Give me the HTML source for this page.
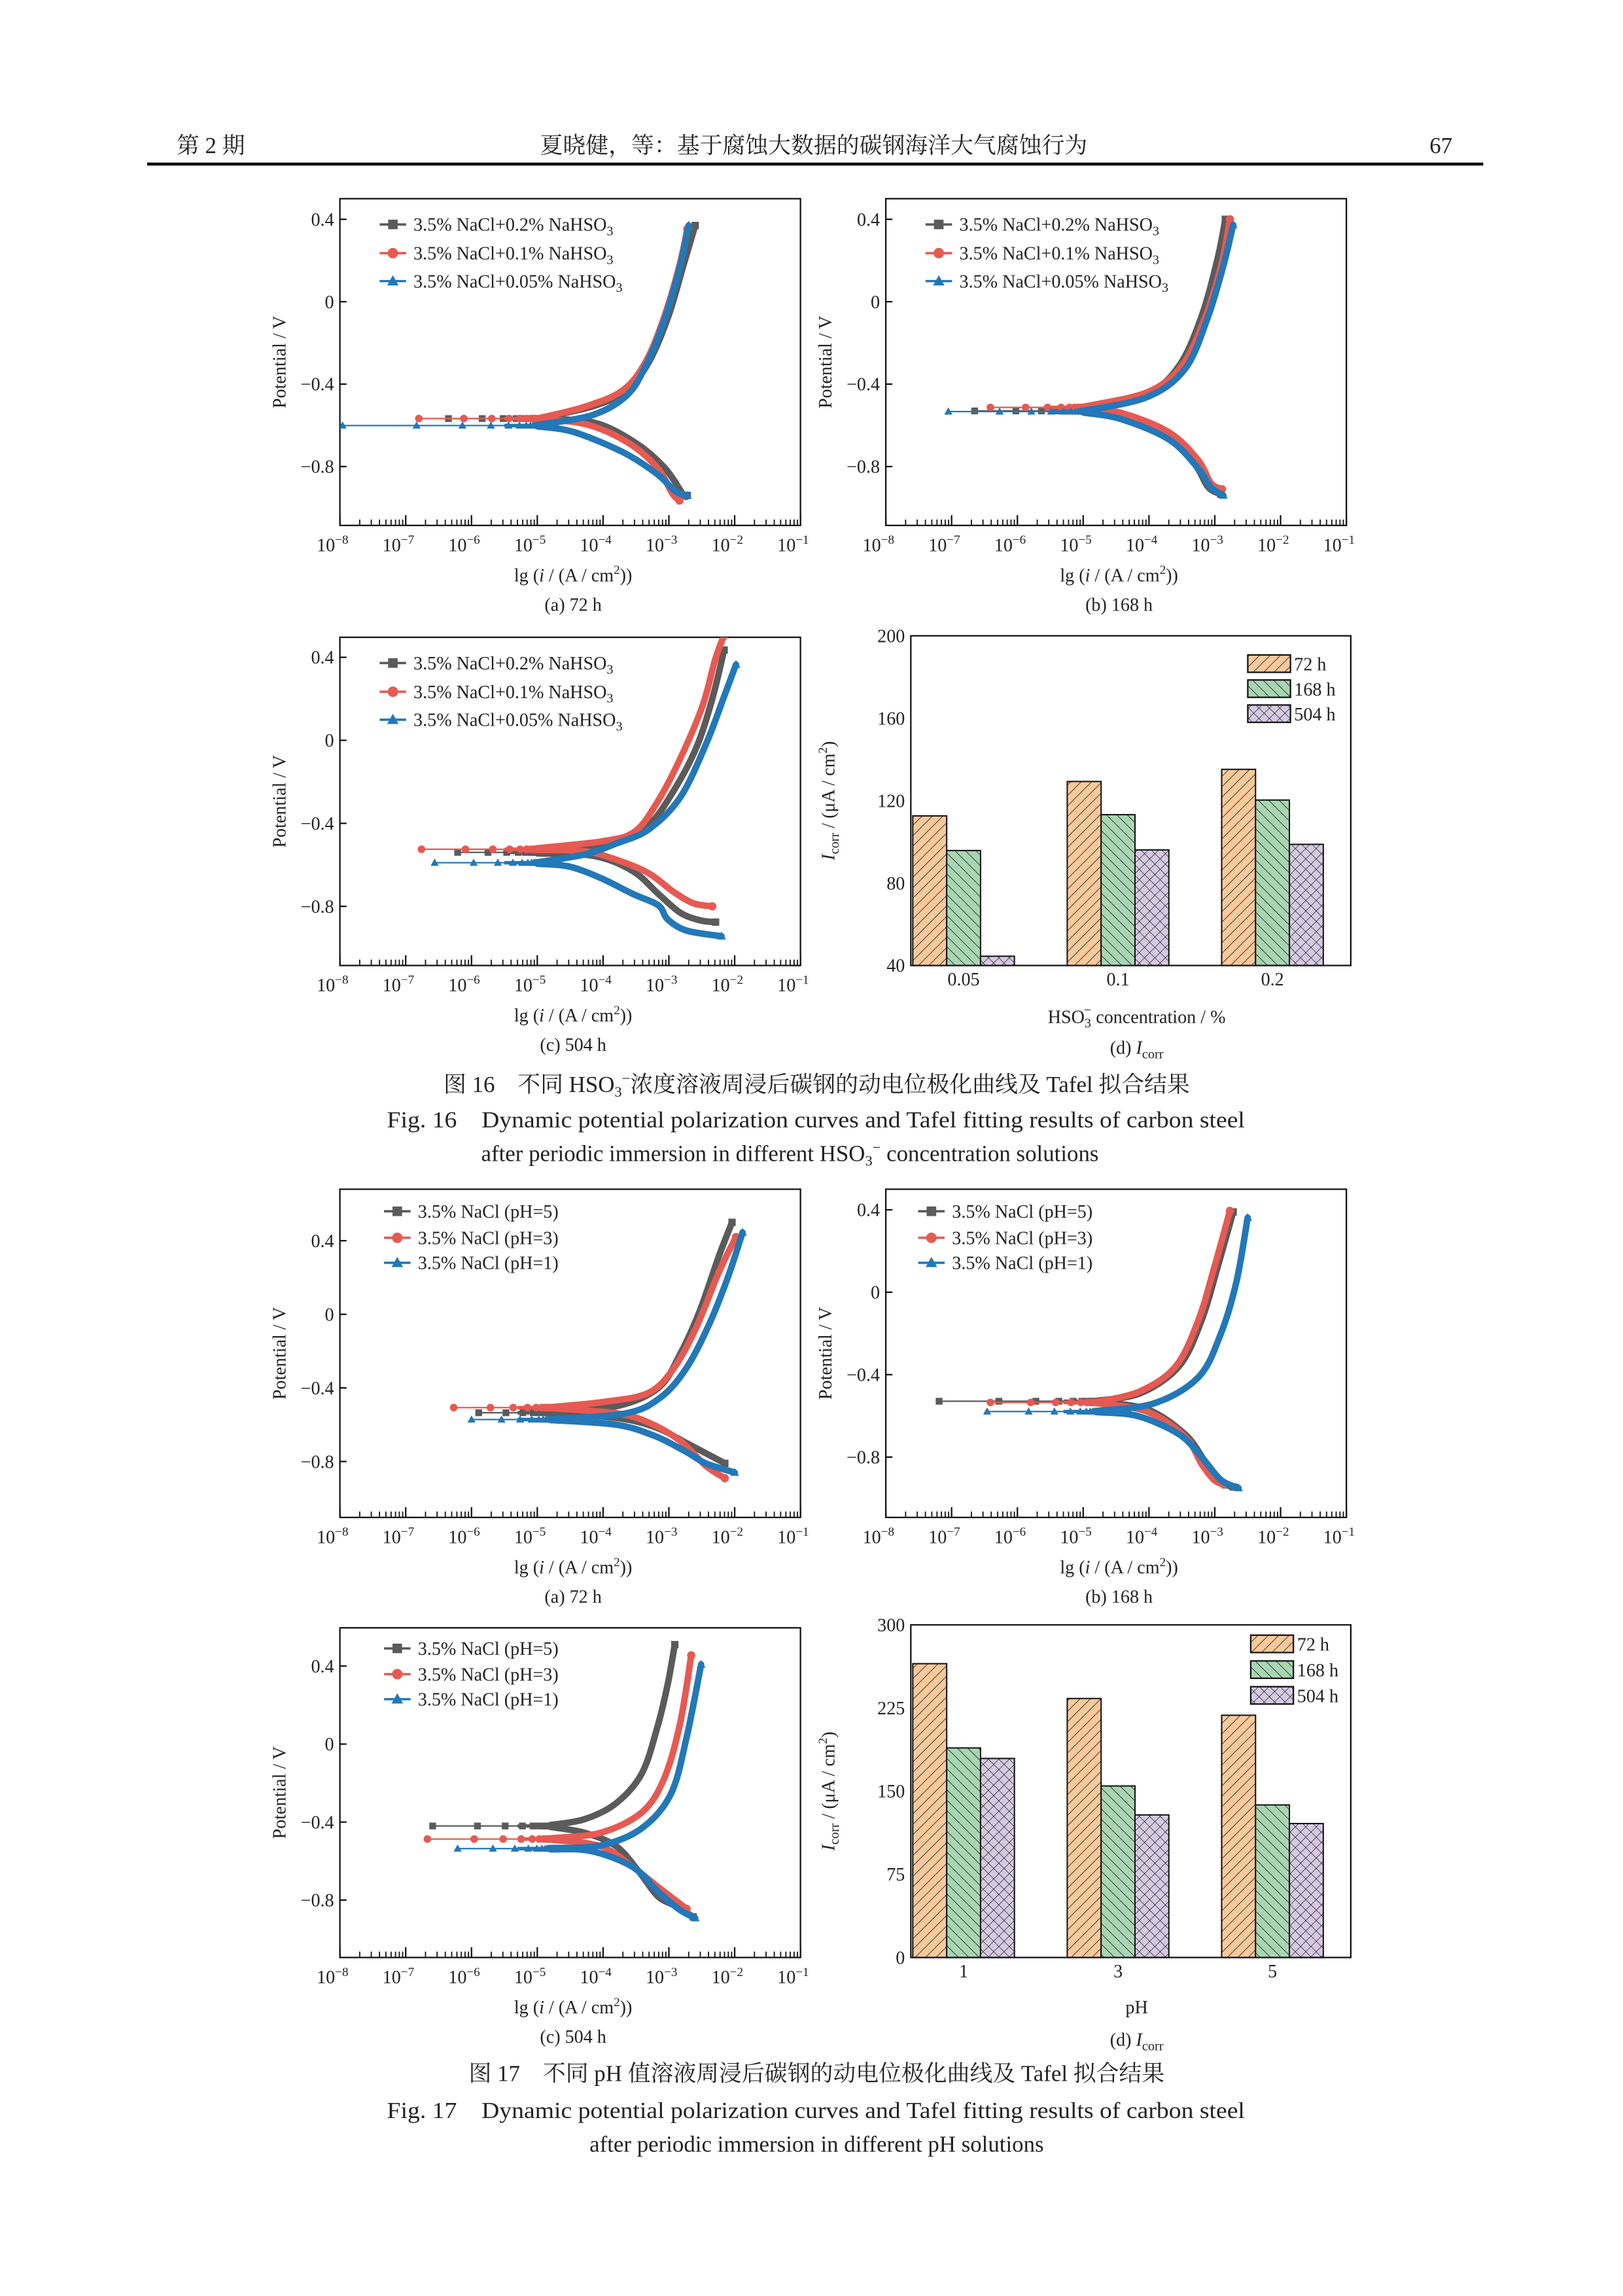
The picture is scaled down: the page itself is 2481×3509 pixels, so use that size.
<!DOCTYPE html>
<html><head><meta charset="utf-8">
<style>
html,body{margin:0;padding:0;background:#fff;}
svg{display:block;}
text{font-family:"Liberation Serif","Noto Serif CJK SC",serif;fill:#222;}
</style></head>
<body>
<svg id="page" xmlns="http://www.w3.org/2000/svg" width="2481" height="3509" viewBox="0 0 1103 1560" preserveAspectRatio="none">
<defs>
<pattern id="hatchO" patternUnits="userSpaceOnUse" width="5" height="5" patternTransform="rotate(45)"><rect width="5" height="5" fill="#f9c99b"/><line x1="0" y1="0" x2="0" y2="5" stroke="#111" stroke-width="0.7"/></pattern>
<pattern id="hatchG" patternUnits="userSpaceOnUse" width="5" height="5" patternTransform="rotate(-45)"><rect width="5" height="5" fill="#a9d6b2"/><line x1="0" y1="0" x2="0" y2="5" stroke="#111" stroke-width="0.7"/></pattern>
<pattern id="hatchP" patternUnits="userSpaceOnUse" width="5" height="5" patternTransform="rotate(45)"><rect width="5" height="5" fill="#d6cae2"/><line x1="0" y1="0" x2="0" y2="5" stroke="#111" stroke-width="0.6"/><line x1="0" y1="0" x2="5" y2="0" stroke="#111" stroke-width="0.6"/></pattern>
</defs>
<g>
<text x="120" y="104" font-size="15.5">第 2 期</text>
<text x="553" y="104" font-size="15.5" text-anchor="middle">夏晓健，等：基于腐蚀大数据的碳钢海洋大气腐蚀行为</text>
<text x="987" y="104" font-size="15.5" text-anchor="end">67</text>
<line x1="100" y1="111.5" x2="1008" y2="111.5" stroke="#000" stroke-width="2"/>
</g>
<g>
<text x="555" y="742" font-size="15.5" text-anchor="middle">图 16　不同 HSO<tspan font-size="10" dy="3">3</tspan><tspan dy="-9" font-size="10">−</tspan><tspan dy="6">浓度溶液周浸后碳钢的动电位极化曲线及 Tafel 拟合结果</tspan></text>
<text x="263" y="766" font-size="15.5" textLength="583" lengthAdjust="spacingAndGlyphs">Fig. 16　Dynamic potential polarization curves and Tafel fitting results of carbon steel</text>
<text x="327" y="789" font-size="15.5">after periodic immersion in different HSO<tspan font-size="10" dy="3">3</tspan><tspan dy="-9" font-size="10">−</tspan><tspan dy="6"> concentration solutions</tspan></text>
</g>
<g>
<text x="555" y="1414" font-size="15.5" text-anchor="middle">图 17　不同 pH 值溶液周浸后碳钢的动电位极化曲线及 Tafel 拟合结果</text>
<text x="263" y="1439" font-size="15.5" textLength="583" lengthAdjust="spacingAndGlyphs">Fig. 17　Dynamic potential polarization curves and Tafel fitting results of carbon steel</text>
<text x="555" y="1462" font-size="15.5" text-anchor="middle">after periodic immersion in different pH solutions</text>
</g>
</svg>
<script>
// ===== Data (log10 i [A/cm2], potential V) =====
const colors = ['#5b5b5b', '#e65a52', '#2278b8'];
const markers = ['square', 'circle', 'triangle'];
const legendHSO = ['3.5% NaCl+0.2% NaHSO', '3.5% NaCl+0.1% NaHSO', '3.5% NaCl+0.05% NaHSO'];
const legendPH = ['3.5% NaCl (pH=5)', '3.5% NaCl (pH=3)', '3.5% NaCl (pH=1)'];
const yTickVals = [0.4, 0, -0.4, -0.8];
const yTickLabels = ['0.4', '0', '−0.4', '−0.8'];
const xDecades = [-8, -7, -6, -5, -4, -3, -2, -1];

// Fig16 (a) 72 h
const f16aEcorr = [-0.567, -0.567, -0.601];
const f16aLeft = [-6.35, -6.8, -7.96];
const f16aAn = [
 [[-5,-0.567],[-4.16,-0.508],[-3.64,-0.43],[-3.3,-0.29],[-3.01,-0.073],[-2.78,0.175],[-2.6,0.37]],
 [[-5,-0.567],[-4.28,-0.51],[-3.7,-0.43],[-3.35,-0.29],[-3.07,-0.073],[-2.84,0.175],[-2.72,0.353]],
 [[-5,-0.598],[-4.16,-0.55],[-3.64,-0.455],[-3.35,-0.31],[-3.07,-0.09],[-2.84,0.16],[-2.7,0.37]]];
const f16aCa = [
 [[-5,-0.57],[-4.16,-0.585],[-3.53,-0.68],[-3.07,-0.804],[-2.78,-0.936],[-2.72,-0.94]],
 [[-5,-0.57],[-4.28,-0.593],[-3.64,-0.68],[-3.18,-0.804],[-2.95,-0.93],[-2.84,-0.965]],
 [[-5,-0.605],[-4.45,-0.632],[-3.7,-0.73],[-3.18,-0.836],[-2.9,-0.92],[-2.72,-0.94]]];
// Fig16 (b) 168 h
const f16bEcorr = [-0.53, -0.513, -0.533];
const f16bLeft = [-6.65, -6.41, -7.05];
const f16bAn = [
 [[-5,-0.528],[-4.03,-0.446],[-3.54,-0.31],[-3.2,-0.07],[-2.96,0.206],[-2.84,0.4]],
 [[-5,-0.51],[-4.03,-0.44],[-3.5,-0.31],[-3.15,-0.08],[-2.9,0.18],[-2.77,0.4]],
 [[-5,-0.53],[-4.03,-0.463],[-3.45,-0.325],[-3.11,-0.08],[-2.87,0.174],[-2.72,0.373]]];
const f16bCa = [
 [[-5,-0.535],[-4.42,-0.557],[-3.69,-0.657],[-3.3,-0.79],[-3.1,-0.9],[-2.91,-0.934]],
 [[-5,-0.518],[-4.42,-0.54],[-3.69,-0.635],[-3.25,-0.77],[-3.06,-0.88],[-2.89,-0.91]],
 [[-5,-0.538],[-4.42,-0.57],[-3.69,-0.67],[-3.25,-0.81],[-3.06,-0.9],[-2.87,-0.94]]];
// Fig16 (c) 504 h
const f16cEcorr = [-0.54, -0.525, -0.59];
const f16cLeft = [-6.21, -6.76, -6.56];
const f16cAn = [
 [[-5,-0.538],[-4.5,-0.53],[-3.8,-0.497],[-3.31,-0.41],[-2.93,-0.245],[-2.58,-0.033],[-2.34,0.2],[-2.16,0.435]],
 [[-5,-0.52],[-4,-0.486],[-3.52,-0.44],[-3.18,-0.3],[-2.83,-0.09],[-2.49,0.165],[-2.3,0.385],[-2.17,0.5]],
 [[-5,-0.588],[-4.28,-0.55],[-3.8,-0.497],[-3.31,-0.43],[-2.83,-0.276],[-2.44,-0.022],[-2.15,0.22],[-1.98,0.365]]];
const f16cCa = [
 [[-5,-0.545],[-4.14,-0.557],[-3.55,-0.63],[-3.16,-0.74],[-2.83,-0.83],[-2.53,-0.867],[-2.29,-0.876]],
 [[-5,-0.528],[-4.28,-0.535],[-3.8,-0.575],[-3.31,-0.64],[-2.93,-0.73],[-2.63,-0.785],[-2.34,-0.8]],
 [[-5,-0.595],[-4.52,-0.608],[-4.04,-0.663],[-3.55,-0.74],[-3.16,-0.795],[-3.02,-0.862],[-2.73,-0.917],[-2.2,-0.944]]];
// Fig17 (a) 72 h
const f17aEcorr = [-0.535, -0.507, -0.572];
const f17aLeft = [-5.89, -6.27, -6.0];
const f17aAn = [
 [[-4.8,-0.533],[-3.8,-0.5],[-3.16,-0.4],[-2.83,-0.217],[-2.53,0.019],[-2.24,0.316],[-2.04,0.5]],
 [[-4.8,-0.505],[-3.99,-0.476],[-3.31,-0.427],[-2.92,-0.29],[-2.58,-0.068],[-2.24,0.229],[-1.98,0.42]],
 [[-4.8,-0.57],[-3.65,-0.538],[-3.12,-0.45],[-2.73,-0.29],[-2.39,-0.056],[-2.1,0.204],[-1.88,0.445]]];
const f17aCa = [
 [[-4.8,-0.54],[-3.8,-0.563],[-3.21,-0.613],[-2.73,-0.7],[-2.15,-0.81]],
 [[-4.8,-0.51],[-3.8,-0.538],[-3.31,-0.588],[-2.83,-0.687],[-2.44,-0.823],[-2.15,-0.891]],
 [[-4.8,-0.575],[-3.8,-0.6],[-3.21,-0.662],[-2.73,-0.749],[-2.44,-0.81],[-2.0,-0.86]]];
// Fig17 (b) 168 h
const f17bEcorr = [-0.529, -0.535, -0.579];
const f17bLeft = [-7.19, -6.41, -6.46];
const f17bAn = [
 [[-4.8,-0.527],[-4.13,-0.49],[-3.54,-0.358],[-3.2,-0.136],[-2.96,0.118],[-2.72,0.39]],
 [[-4.8,-0.533],[-4.13,-0.48],[-3.59,-0.358],[-3.25,-0.136],[-3.01,0.118],[-2.77,0.395]],
 [[-4.8,-0.576],[-3.93,-0.54],[-3.25,-0.413],[-2.91,-0.203],[-2.67,0.052],[-2.5,0.362]]];
const f17bCa = [
 [[-4.8,-0.532],[-4.03,-0.568],[-3.45,-0.69],[-3.15,-0.82],[-2.91,-0.92],[-2.72,-0.945]],
 [[-4.8,-0.538],[-4.03,-0.579],[-3.45,-0.701],[-3.2,-0.834],[-3.01,-0.911],[-2.86,-0.934]],
 [[-4.8,-0.582],[-4.17,-0.601],[-3.54,-0.69],[-3.2,-0.8],[-2.91,-0.91],[-2.64,-0.95]]];
// Fig17 (c) 504 h
const f17cEcorr = [-0.42, -0.487, -0.536];
const f17cLeft = [-6.59, -6.67, -6.21];
const f17cAn = [
 [[-4.8,-0.415],[-4.28,-0.385],[-3.8,-0.303],[-3.41,-0.15],[-3.17,0.093],[-3.02,0.303],[-2.91,0.51]],
 [[-4.8,-0.483],[-4.04,-0.455],[-3.41,-0.35],[-3.07,-0.175],[-2.83,0.105],[-2.66,0.455]],
 [[-4.8,-0.533],[-4.04,-0.52],[-3.41,-0.431],[-2.97,-0.256],[-2.73,0.035],[-2.51,0.408]]];
const f17cCa = [
 [[-4.8,-0.425],[-4.28,-0.455],[-3.8,-0.524],[-3.46,-0.652],[-3.17,-0.78],[-2.92,-0.827],[-2.63,-0.886]],
 [[-4.8,-0.49],[-4.04,-0.524],[-3.55,-0.63],[-3.16,-0.734],[-2.73,-0.845]],
 [[-4.8,-0.54],[-4.19,-0.548],[-3.55,-0.63],[-3.16,-0.758],[-2.83,-0.851],[-2.6,-0.892]]];

// Bar charts
const barSeriesNames = ['72 h', '168 h', '504 h'];
const f16dCategories = ['0.05', '0.1', '0.2'];
const f16d72 = [112.6, 129.3, 135.2];
const f16d168 = [95.8, 113.2, 120.3];
const f16d504 = [44.5, 96.1, 98.8];
const f16dTicks = [40, 80, 120, 160, 200];
const f17dCategories = ['1', '3', '5'];
const f17d72 = [265, 233.6, 218.5];
const f17d168 = [189, 154.7, 137.6];
const f17d504 = [179.5, 128.6, 120.8];
const f17dTicks = [0, 75, 150, 225, 300];

// ===== Rendering =====
const NS = 'http://www.w3.org/2000/svg';
const svg = document.getElementById('page');
function mk(tag, attrs, parent) {
  const el = document.createElementNS(NS, tag);
  for (const k in attrs) el.setAttribute(k, attrs[k]);
  (parent || svg).appendChild(el);
  return el;
}
function smoothPath(pts) {
  if (pts.length < 2) return '';
  let d = 'M' + pts[0][0].toFixed(2) + ',' + pts[0][1].toFixed(2);
  for (let i = 0; i < pts.length - 1; i++) {
    const p0 = pts[Math.max(0, i - 1)], p1 = pts[i], p2 = pts[i + 1], p3 = pts[Math.min(pts.length - 1, i + 2)];
    const c1x = p1[0] + (p2[0] - p0[0]) / 6, c1y = p1[1] + (p2[1] - p0[1]) / 6;
    const c2x = p2[0] - (p3[0] - p1[0]) / 6, c2y = p2[1] - (p3[1] - p1[1]) / 6;
    d += ' C' + c1x.toFixed(2) + ',' + c1y.toFixed(2) + ' ' + c2x.toFixed(2) + ',' + c2y.toFixed(2) + ' ' + p2[0].toFixed(2) + ',' + p2[1].toFixed(2);
  }
  return d;
}
function drawMarker(g, type, x, y, s, color) {
  let m;
  if (type === 'square') m = mk('rect', {x: x - s / 2, y: y - s / 2, width: s, height: s, fill: color}, g);
  else if (type === 'circle') m = mk('circle', {cx: x, cy: y, r: s / 2 + 0.3, fill: color}, g);
  else m = mk('path', {d: 'M' + x + ',' + (y - s * 0.62) + ' L' + (x + s * 0.6) + ',' + (y + s * 0.45) + ' L' + (x - s * 0.6) + ',' + (y + s * 0.45) + 'Z', fill: color}, g);
  return m;
}
function addText(parent, x, y, str, size, anchor) {
  const t = mk('text', {x: x, y: y, 'font-size': size, 'text-anchor': anchor || 'start'}, parent);
  t.textContent = str;
  return t;
}

function curvePanel(id, fx, fy, fw, fh, y0, ppv, ecorr, left, an, ca, legend, subscript, legX, legY, caption) {
  const g = mk('g', {});
  
  
  const X = l => fx + (l + 8) / 7 * fw;
  const Y = e => y0 - e * ppv;
  const clip = mk('clipPath', {id: 'clip-' + id}, g);
  mk('rect', {x: fx, y: fy, width: fw, height: fh}, clip);
  const frame = mk('rect', {x: fx, y: fy, width: fw, height: fh, fill: 'none', stroke: '#111', 'stroke-width': 1}, g);
  
  
  yTickVals.forEach((v, i) => {
    const yy = Y(v);
    const tk = mk('line', {x1: fx, x2: fx + 4.5, y1: yy, y2: yy, stroke: '#111', 'stroke-width': 1}, g);
    
    
    const lb = addText(g, fx - 4, yy + 4.3, yTickLabels[i], 12.5, 'end');
    
    
  });
  xDecades.forEach(d => {
    const xx = X(d);
    const tk = mk('line', {x1: xx, x2: xx, y1: fy + fh, y2: fy + fh - 7, stroke: '#111', 'stroke-width': 1}, g);
    
    
    if (d < -1) {
      for (let k = 2; k <= 9; k++) {
        const mx = X(d + Math.log10(k));
        const mt = mk('line', {x1: mx, x2: mx, y1: fy + fh, y2: fy + fh - 4, stroke: '#111', 'stroke-width': 0.8}, g);
        
        
      }
    }
    const lb = mk('text', {x: xx - 5, y: fy + fh + 17.5, 'font-size': 12.5, 'text-anchor': 'middle'}, g);
    
    
    lb.appendChild(document.createTextNode('10'));
    const sp = mk('tspan', {dy: -5, 'font-size': 8.5}, lb);
    sp.textContent = '−' + (-d);
  });
  const yl = addText(g, 0, 0, 'Potential / V', 12.5, 'middle');
  yl.setAttribute('transform', 'translate(' + (fx - 37) + ',' + (fy + fh / 2) + ') rotate(-90)');
  
  
  const xl = mk('text', {x: fx + fw / 2 + 2, y: fy + fh + 38, 'font-size': 12.5, 'text-anchor': 'middle'}, g);
  
  
  xl.appendChild(document.createTextNode('lg ('));
  const it = mk('tspan', {'font-style': 'italic'}, xl); it.textContent = 'i';
  xl.appendChild(document.createTextNode(' / (A / cm'));
  const s2 = mk('tspan', {dy: -5, 'font-size': 8.5}, xl); s2.textContent = '2';
  const s3 = mk('tspan', {dy: 5}, xl); s3.textContent = '))';
  const cp = addText(g, fx + fw / 2 + 2, fy + fh + 58, caption, 12.5, 'middle');
  
  
  const plot = mk('g', {'clip-path': 'url(#clip-' + id + ')'}, g);
  for (let s = 0; s < 3; s++) {
    const sg = mk('g', {}, plot);
    
    
    const c = colors[s];
    const join = an[s][0][0];
    const thin = mk('line', {x1: X(left[s]), x2: X(join), y1: Y(ecorr[s]), y2: Y(ecorr[s]), stroke: c, 'stroke-width': 1}, sg);
    
    
    const anp = mk('path', {d: smoothPath(an[s].map(p => [X(p[0]), Y(p[1])])), fill: 'none', stroke: c, 'stroke-width': 4.4, 'stroke-linecap': 'round', 'stroke-linejoin': 'round'}, sg);
    
    
    const cap = mk('path', {d: smoothPath(ca[s].map(p => [X(p[0]), Y(p[1])])), fill: 'none', stroke: c, 'stroke-width': 4.4, 'stroke-linecap': 'round', 'stroke-linejoin': 'round'}, sg);
    
    
    const jp = mk('path', {d: smoothPath([[X(join - 0.5), Y(ecorr[s])], [X(join), Y(ecorr[s])]]), fill: 'none', stroke: c, 'stroke-width': 2.4}, sg);
    
    
    const span = join - left[s];
    for (let k = 0; k < 10; k++) {
      const l = join - span * Math.pow(0.62, k);
      const m = drawMarker(sg, markers[s], X(l), Y(ecorr[s]), 4.6, c);
      
      
    }
    const ea = an[s][an[s].length - 1], ec = ca[s][ca[s].length - 1];
    const m1 = drawMarker(sg, markers[s], X(ea[0]), Y(ea[1]), 5, c);
    
    
    const m2 = drawMarker(sg, markers[s], X(ec[0]), Y(ec[1]), 5, c);
    
    
  }
  const lg = mk('g', {}, g);
  
  
  legY.forEach((ly, s) => {
    const e = mk('g', {}, lg);
    
    
    mk('line', {x1: fx + legX, x2: fx + legX + 18, y1: fy + ly, y2: fy + ly, stroke: colors[s], 'stroke-width': 1.6}, e);
    drawMarker(e, markers[s], fx + legX + 9, fy + ly, 6.5, colors[s]);
    const t = mk('text', {x: fx + legX + 23, y: fy + ly + 4.3, 'font-size': 12.5}, e);
    t.appendChild(document.createTextNode(legend[s]));
    if (subscript) {
      const sb = mk('tspan', {dy: 3, 'font-size': 9}, t);
      sb.textContent = '3';
    }
  });
}

function barPanel(id, fx, fy, fw, fh, vmin, vmax, ticks, cats, v72, v168, v504, legTops, legBoxX, xTitleFn, caption, xTitleY, captionY) {
  const g = mk('g', {});
  
  
  const Y = v => fy + fh - (v - vmin) / (vmax - vmin) * fh;
  const centers = [0.12, 0.471, 0.822];
  const bw = 0.077 * fw;
  const series = [v72, v168, v504];
  const fills = ['url(#hatchO)', 'url(#hatchG)', 'url(#hatchP)'];
  const names = ['72h', '168h', '504h'];
  cats.forEach((c, i) => {
    const cx = fx + centers[i] * fw;
    for (let s = 0; s < 3; s++) {
      const x = cx + (s - 1.5) * bw;
      const r = mk('rect', {x: x, y: Y(series[s][i]), width: bw, height: Y(vmin) - Y(series[s][i]), fill: fills[s], stroke: '#111', 'stroke-width': 0.9}, g);
      
      
    }
    const tl = addText(g, cx, fy + fh + 13.5, c, 12.5, 'middle');
    
    
  });
  const frame = mk('rect', {x: fx, y: fy, width: fw, height: fh, fill: 'none', stroke: '#111', 'stroke-width': 1}, g);
  
  
  ticks.forEach(v => {
    const tl = addText(g, fx - 4, Y(v) + 4.3, String(v), 12.5, 'end');
    
    
  });
  const yt = mk('text', {'font-size': 12.5, 'text-anchor': 'middle', transform: 'translate(' + (fx - 52) + ',' + (fy + fh / 2) + ') rotate(-90)'}, g);
  
  
  const yi = mk('tspan', {'font-style': 'italic'}, yt); yi.textContent = 'I';
  const ys = mk('tspan', {dy: 3, 'font-size': 9}, yt); ys.textContent = 'corr';
  const yr = mk('tspan', {dy: -3}, yt); yr.textContent = ' / (μA / cm';
  const y2 = mk('tspan', {dy: -5, 'font-size': 8.5}, yt); y2.textContent = '2';
  const y3 = mk('tspan', {dy: 5}, yt); y3.textContent = ')';
  xTitleFn(g, fx + fw / 2 + 4, xTitleY);
  const cp = mk('text', {x: fx + fw / 2 + 4, y: captionY, 'font-size': 12.5, 'text-anchor': 'middle'}, g);
  
  
  cp.appendChild(document.createTextNode(caption + ' '));
  const ci = mk('tspan', {'font-style': 'italic'}, cp); ci.textContent = 'I';
  const cs = mk('tspan', {dy: 3, 'font-size': 9}, cp); cs.textContent = 'corr';
  const lg = mk('g', {}, g);
  
  
  legTops.forEach((t, s) => {
    const e = mk('g', {}, lg);
    
    
    mk('rect', {x: legBoxX, y: fy + t, width: 29, height: 11.8, fill: fills[s], stroke: '#111', 'stroke-width': 1}, e);
    addText(e, legBoxX + 31.5, fy + t + 10.5, barSeriesNames[s], 12.5, 'start');
  });
}

const legY16 = [17.5, 37, 56];
const legY17 = [15, 33, 50];
curvePanel('fig16a', 231, 135, 313, 222, 205, 140, f16aEcorr, f16aLeft, f16aAn, f16aCa, legendHSO, true, 27, legY16, '(a) 72 h');
curvePanel('fig16b', 602, 135, 313, 222, 205, 140, f16bEcorr, f16bLeft, f16bAn, f16bCa, legendHSO, true, 27, legY16, '(b) 168 h');
curvePanel('fig16c', 231, 433, 313, 223, 503, 141, f16cEcorr, f16cLeft, f16cAn, f16cCa, legendHSO, true, 27, legY16, '(c) 504 h');
curvePanel('fig17a', 231, 808, 313, 223, 893, 125, f17aEcorr, f17aLeft, f17aAn, f17aCa, legendPH, false, 30, legY17, '(a) 72 h');
curvePanel('fig17b', 602, 808, 313, 223, 878, 140, f17bEcorr, f17bLeft, f17bAn, f17bCa, legendPH, false, 22, legY17, '(b) 168 h');
curvePanel('fig17c', 231, 1106, 313, 224, 1185, 132.5, f17cEcorr, f17cLeft, f17cAn, f17cCa, legendPH, false, 30, [14, 31.5, 48.5], '(c) 504 h');

barPanel('fig16d', 619, 432, 299, 224, 40, 200, f16dTicks, f16dCategories, f16d72, f16d168, f16d504,
  [13, 30, 47], 848,
  (g, x, y) => {
    const t = mk('text', {x: x, y: y, 'font-size': 12.5, 'text-anchor': 'middle'}, g);
    
    
    t.appendChild(document.createTextNode('HSO'));
    const a = mk('tspan', {dy: 3, 'font-size': 9}, t); a.textContent = '3';
    const b = mk('tspan', {dy: -9, 'font-size': 9, dx: -5}, t); b.textContent = '−';
    const c = mk('tspan', {dy: 6}, t); c.textContent = ' concentration / %';
  }, '(d)', 695, 716);
barPanel('fig17d', 619, 1104, 299, 226, 0, 300, f17dTicks, f17dCategories, f17d72, f17d168, f17d504,
  [7, 24.5, 42], 850,
  (g, x, y) => {
    const t = addText(g, x, y, 'pH', 12.5, 'middle');
    
    
  }, '(d)', 1368, 1390);
</script>
</body></html>
